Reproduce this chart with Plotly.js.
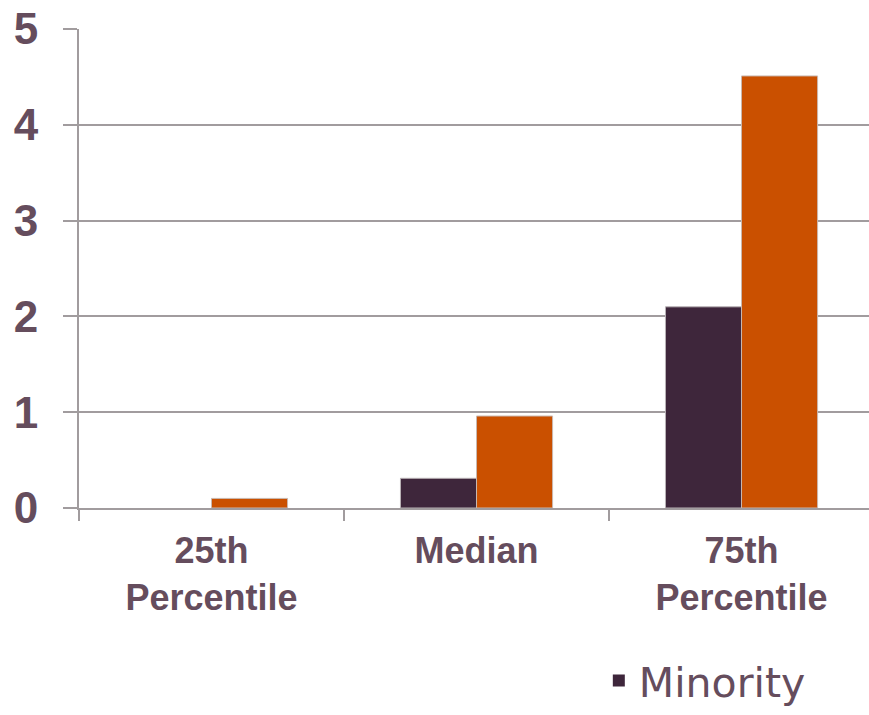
<!DOCTYPE html>
<html>
<head>
<meta charset="utf-8">
<script src="https://cdn.plot.ly/plotly-3.0.1.min.js"></script>
<style>html,body{margin:0;padding:0;background:#fff;}#chart{width:869px;height:715px;}</style>
</head>
<body>
<div id="chart"></div>
<script>
const categories = ["25th<br>Percentile", "Median", "75th<br>Percentile"];
const minorityValues = [0, 0.31, 2.10];
const nonMinorityValues = [0.10, 0.96, 4.51];
const yTickValues = [0, 1, 2, 3, 4, 5];
const yTickLabels = ["0", "1", "2", "3", "4", "5"];

const textColor = "#654d5d";
const gridColor = "#a19c9e";

const traces = [
  {
    type: "bar",
    name: "Minority",
    x: categories,
    y: minorityValues,
    marker: { color: "#3e263b", line: { color: "#b9b2b6", width: minorityValues.map(v => v > 0 ? 1 : 0) } },
    hoverinfo: "x+y"
  },
  {
    type: "bar",
    name: "Non-Minority",
    x: categories,
    y: nonMinorityValues,
    showlegend: false,
    marker: { color: "#ca5000", line: { color: "#c9b8b0", width: 1 } },
    hoverinfo: "x+y"
  }
];

const layout = {
  width: 869,
  height: 715,
  margin: { l: 79, r: 0, t: 29, b: 199 },
  paper_bgcolor: "#ffffff",
  plot_bgcolor: "#ffffff",
  barmode: "group",
  bargap: 0.426,
  bargroupgap: 0,
  font: { family: "Liberation Sans, Arial, sans-serif", color: textColor },
  xaxis: {
    type: "category",
    range: [-0.5, 2.481],
    automargin: false,
    showline: true,
    linecolor: gridColor,
    linewidth: 2,
    ticks: "outside",
    tickson: "boundaries",
    ticklen: 11,
    tickwidth: 2,
    tickcolor: gridColor,
    ticklabelstandoff: 10,
    tickfont: { family: "Liberation Sans, Arial, sans-serif", size: 36, color: textColor, weight: "bold" },
    showgrid: false,
    zeroline: false,
    fixedrange: true
  },
  yaxis: {
    range: [0, 5],
    automargin: false,
    tickvals: yTickValues,
    ticktext: yTickLabels,
    showline: true,
    linecolor: gridColor,
    linewidth: 2,
    ticks: "outside",
    ticklen: 14,
    tickwidth: 2,
    tickcolor: gridColor,
    ticklabelstandoff: 16,
    showgrid: true,
    gridcolor: gridColor,
    gridwidth: 2,
    zeroline: false,
    tickfont: { family: "Liberation Sans, Arial, sans-serif", size: 44, color: textColor, weight: "bold" },
    fixedrange: true
  },
  showlegend: true,
  legend: {
    orientation: "h",
    x: 0.658,
    xanchor: "left",
    y: -0.291,
    yanchor: "top",
    font: { family: "DejaVu Sans, sans-serif", size: 41, color: textColor },
    bgcolor: "rgba(0,0,0,0)"
  }
};

Plotly.newPlot("chart", traces, layout, { displayModeBar: false, staticPlot: true });
</script>
</body>
</html>
